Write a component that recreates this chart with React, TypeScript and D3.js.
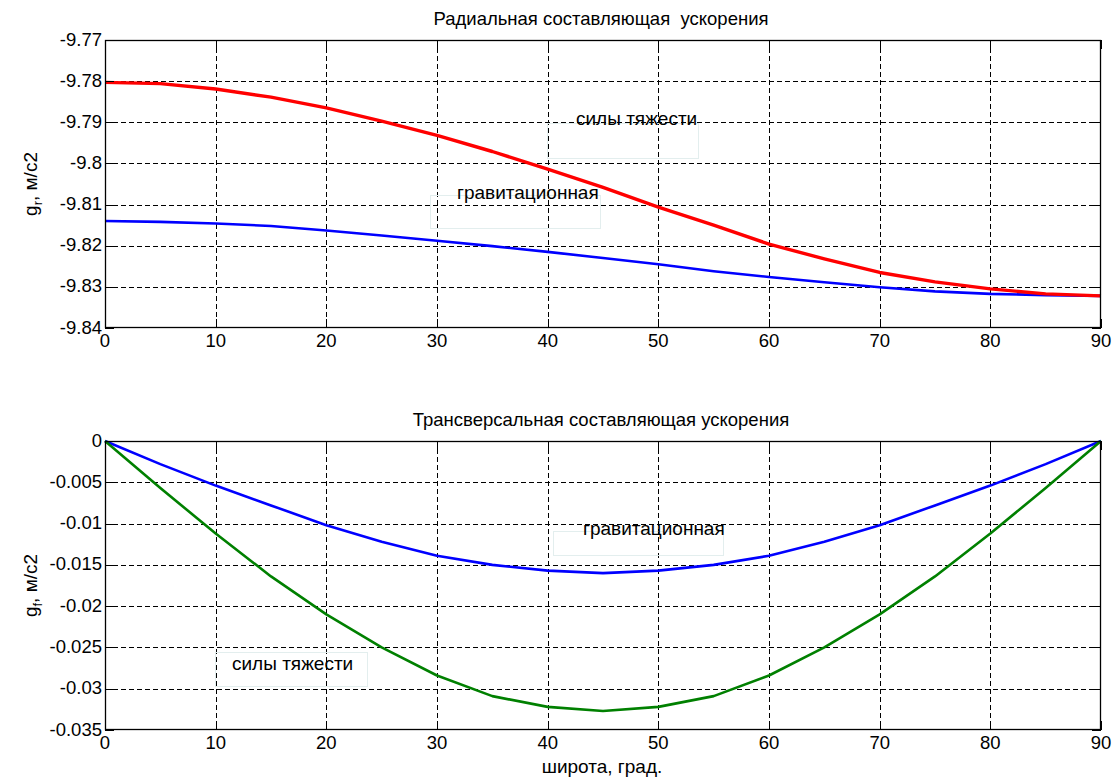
import React, { useRef, useEffect } from "react";
import * as d3 from "d3";

// latitude, degrees
export const lat = [0, 5, 10, 15, 20, 25, 30, 35, 40, 45, 50, 55, 60, 65, 70, 75, 80, 85, 90];

// radial component, m/s2
export const radialGravity = [
  -9.7803, -9.7806, -9.7819, -9.7839, -9.7865, -9.7897, -9.7932, -9.7971, -9.8014, -9.8058,
  -9.8106, -9.815, -9.8196, -9.8232, -9.8265, -9.8288, -9.8305, -9.8317, -9.8322,
];
export const radialGravitational = [
  -9.814, -9.8142, -9.8146, -9.8152, -9.8163, -9.8175, -9.8188, -9.8201, -9.8215, -9.823,
  -9.8245, -9.8262, -9.8276, -9.8289, -9.8301, -9.8311, -9.8317, -9.832, -9.8322,
];

// transversal component, m/s2
export const transGravitational = [
  0, -0.0028, -0.0054, -0.0078, -0.0102, -0.0122, -0.0139, -0.015, -0.0157, -0.016,
  -0.0157, -0.015, -0.0139, -0.0122, -0.0102, -0.0078, -0.0054, -0.0028, 0,
];
export const transGravity = [
  0, -0.0057, -0.0112, -0.0164, -0.021, -0.025, -0.0284, -0.0309, -0.0322, -0.0327,
  -0.0322, -0.0309, -0.0284, -0.025, -0.021, -0.0164, -0.0112, -0.0057, 0,
];

export const xTicks = [0, 10, 20, 30, 40, 50, 60, 70, 80, 90];
export const topYTicks = [-9.77, -9.78, -9.79, -9.8, -9.81, -9.82, -9.83, -9.84];
export const bottomYTicks = [0, -0.005, -0.01, -0.015, -0.02, -0.025, -0.03, -0.035];

const W = 1115;
const H = 780;
const font = "Arial, 'Liberation Sans', sans-serif";

const App = () => {
  const ref = useRef<SVGSVGElement>(null);

  useEffect(() => {
    const svg = d3.select(ref.current);
    svg.selectAll("*").remove();

    const left = 105;
    const right = 1101;
    const x = d3.scaleLinear().domain([0, 90]).range([left, right]);

    const drawPanel = (opts: {
      top: number;
      bottom: number;
      domain: [number, number];
      ticks: number[];
      fmt: (v: number) => string;
      title: string;
      sub: string;
      series: { values: number[]; color: string; width: number }[];
      labels: { text: string; x: number; y: number; box: [number, number, number, number] }[];
    }) => {
      const y = d3.scaleLinear().domain(opts.domain).range([opts.bottom, opts.top]);
      const g = svg.append("g");

      g.append("rect")
        .attr("x", left)
        .attr("y", opts.top)
        .attr("width", right - left)
        .attr("height", opts.bottom - opts.top)
        .attr("fill", "#fff");

      // dashed grid
      g.selectAll(".vgrid")
        .data(xTicks.slice(1, -1))
        .enter()
        .append("line")
        .attr("x1", (d) => Math.round(x(d)) + 0.5)
        .attr("x2", (d) => Math.round(x(d)) + 0.5)
        .attr("y1", opts.top)
        .attr("y2", opts.bottom)
        .attr("stroke", "#000")
        .attr("stroke-width", 1)
        .attr("stroke-dasharray", "5,3");
      g.selectAll(".hgrid")
        .data(opts.ticks.filter((t) => t !== opts.domain[0] && t !== opts.domain[1]))
        .enter()
        .append("line")
        .attr("x1", left)
        .attr("x2", right)
        .attr("y1", (d) => Math.round(y(d)) + 0.5)
        .attr("y2", (d) => Math.round(y(d)) + 0.5)
        .attr("stroke", "#000")
        .attr("stroke-width", 1)
        .attr("stroke-dasharray", "5,3");

      // faint text boxes
      opts.labels.forEach((l) => {
        g.append("rect")
          .attr("x", l.box[0] + 0.5)
          .attr("y", l.box[1] + 0.5)
          .attr("width", l.box[2])
          .attr("height", l.box[3])
          .attr("fill", "none")
          .attr("stroke", "#e3eeee")
          .attr("stroke-width", 1);
      });

      opts.series.forEach((s) => {
        const line = d3
          .line<number>()
          .x((_, i) => x(lat[i]))
          .y((d) => y(d));
        g.append("path")
          .datum(s.values)
          .attr("d", line)
          .attr("fill", "none")
          .attr("stroke", s.color)
          .attr("stroke-width", s.width)
          .attr("stroke-linejoin", "round");
      });

      opts.labels.forEach((l) => {
        g.append("text")
          .attr("x", l.x)
          .attr("y", l.y)
          .style("font-family", font)
          .style("font-size", "19px")
          .text(l.text);
      });

      // axes box with inward ticks
      g.append("rect")
        .attr("x", left + 0.5)
        .attr("y", opts.top + 0.5)
        .attr("width", right - left - 1)
        .attr("height", opts.bottom - opts.top - 1)
        .attr("fill", "none")
        .attr("stroke", "#000")
        .attr("stroke-width", 1.3);

      const tl = 9;
      xTicks.forEach((t) => {
        const xx = Math.round(x(t)) + 0.5;
        g.append("line")
          .attr("x1", xx).attr("x2", xx)
          .attr("y1", opts.bottom).attr("y2", opts.bottom - tl)
          .attr("stroke", "#000");
        g.append("line")
          .attr("x1", xx).attr("x2", xx)
          .attr("y1", opts.top).attr("y2", opts.top + tl)
          .attr("stroke", "#000");
      });
      opts.ticks.forEach((t) => {
        const yy = Math.round(y(t)) + 0.5;
        g.append("line")
          .attr("x1", left).attr("x2", left + tl)
          .attr("y1", yy).attr("y2", yy)
          .attr("stroke", "#000");
        g.append("line")
          .attr("x1", right).attr("x2", right - tl)
          .attr("y1", yy).attr("y2", yy)
          .attr("stroke", "#000");
      });

      g.selectAll(".xt")
        .data(xTicks)
        .enter()
        .append("text")
        .attr("x", (d) => x(d))
        .attr("y", opts.bottom + 19)
        .attr("text-anchor", "middle")
        .style("font-family", font)
        .style("font-size", "18.5px")
        .text((d) => String(d));
      g.selectAll(".yt")
        .data(opts.ticks)
        .enter()
        .append("text")
        .attr("x", left - 3)
        .attr("y", (d) => y(d) + 5.5)
        .attr("text-anchor", "end")
        .style("font-family", font)
        .style("font-size", "18.5px")
        .text((d) => opts.fmt(d));

      g.append("text")
        .attr("x", (left + right) / 2 - 2)
        .attr("y", opts.top - 15)
        .attr("text-anchor", "middle")
        .style("font-family", font)
        .style("font-size", "18.5px")
        .style("white-space", "pre")
        .text(opts.title);

      const yl = g
        .append("text")
        .attr("transform", `translate(37, ${(opts.top + opts.bottom) / 2}) rotate(-90)`)
        .attr("text-anchor", "middle")
        .style("font-family", font)
        .style("font-size", "19px");
      yl.append("tspan").text("g");
      yl.append("tspan").attr("dy", 5).style("font-size", "13px").text(opts.sub);
      yl.append("tspan").attr("dy", -5).text(", м/с2");
    };

    drawPanel({
      top: 40,
      bottom: 328,
      domain: [-9.84, -9.77],
      ticks: topYTicks,
      fmt: (v) => String(+v.toFixed(2)),
      title: "Радиальная составляющая  ускорения",
      sub: "r",
      series: [
        { values: radialGravitational, color: "#0000ff", width: 2.6 },
        { values: radialGravity, color: "#ff0000", width: 3.4 },
      ],
      labels: [
        { text: "силы тяжести", x: 576, y: 125, box: [547, 123, 151, 35] },
        { text: "гравитационная", x: 457, y: 199, box: [430, 195, 170, 33] },
      ],
    });

    drawPanel({
      top: 441,
      bottom: 730,
      domain: [-0.035, 0],
      ticks: bottomYTicks,
      fmt: (v) => (v === 0 ? "0" : String(+v.toFixed(3))),
      title: "Трансверсальная составляющая ускорения",
      sub: "f",
      series: [
        { values: transGravitational, color: "#0000ff", width: 2.6 },
        { values: transGravity, color: "#008000", width: 2.6 },
      ],
      labels: [
        { text: "гравитационная", x: 583, y: 535, box: [553, 531, 170, 24] },
        { text: "силы тяжести", x: 232, y: 670, box: [215, 652, 152, 34] },
      ],
    });

    svg
      .append("text")
      .attr("x", (left + right) / 2 - 1)
      .attr("y", 773)
      .attr("text-anchor", "middle")
      .style("font-family", font)
      .style("font-size", "19px")
      .text("широта, град.");
  }, []);

  return (
    <svg
      ref={ref}
      width={W}
      height={H}
      style={{ position: "absolute", left: 0, top: 0, background: "#fff" }}
    ></svg>
  );
};

export default App;
